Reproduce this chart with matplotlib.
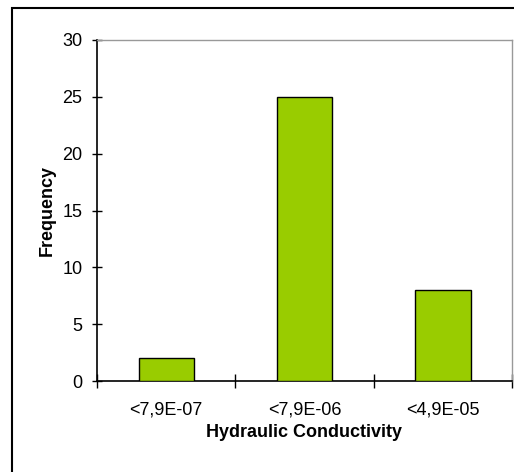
import matplotlib
matplotlib.use("Agg")
import matplotlib.pyplot as plt
from matplotlib.patches import Rectangle

categories = ["<7,9E-07", "<7,9E-06", "<4,9E-05"]
frequency = [2, 25, 8]
yticks = [0, 5, 10, 15, 20, 25, 30]

plt.rcParams['font.family'] = ['Liberation Sans', 'DejaVu Sans']

W, H = 514, 472
FS = 13
fig = plt.figure(figsize=(W/100, H/100), dpi=100)
ax = fig.add_axes([97/W, 1-381/H, (512-97)/W, (381-40)/H])

x = list(range(len(categories)))
ax.bar(x, frequency, width=0.4, color="#99CC00", edgecolor="black", linewidth=1.0, zorder=3)
ax.set_xlim(-0.5, len(categories)-0.5)
ax.set_ylim(0, 30)
ax.set_yticks(yticks)
ax.set_yticklabels([str(v) for v in yticks], fontsize=FS)
ax.set_xticks(x)
ax.set_xticklabels(categories, fontsize=FS)
ax.tick_params(axis='x', length=0, pad=15)
ax.set_xticks([-0.5, 0.5, 1.5, 2.5], minor=True)
ax.tick_params(axis='x', which='minor', direction='inout', length=10, width=1.0)
ax.tick_params(axis='y', direction='inout', length=7, width=1.0, pad=7)

for s in ['left', 'bottom']:
    ax.spines[s].set_color('black')
    ax.spines[s].set_linewidth(1.2)
for s in ['top', 'right']:
    ax.spines[s].set_color('#999999')
    ax.spines[s].set_linewidth(1.0)

ax.set_xlabel("Hydraulic Conductivity", fontsize=FS, fontweight='bold', labelpad=4)
ax.set_ylabel("Frequency", fontsize=FS, fontweight='bold', labelpad=5)

fig.patches.append(Rectangle((12/W, -0.05), 1.2, 1-8/H+0.05, transform=fig.transFigure,
                             fill=False, edgecolor='black', linewidth=1.5))

fig.savefig("out.png", dpi=100)
